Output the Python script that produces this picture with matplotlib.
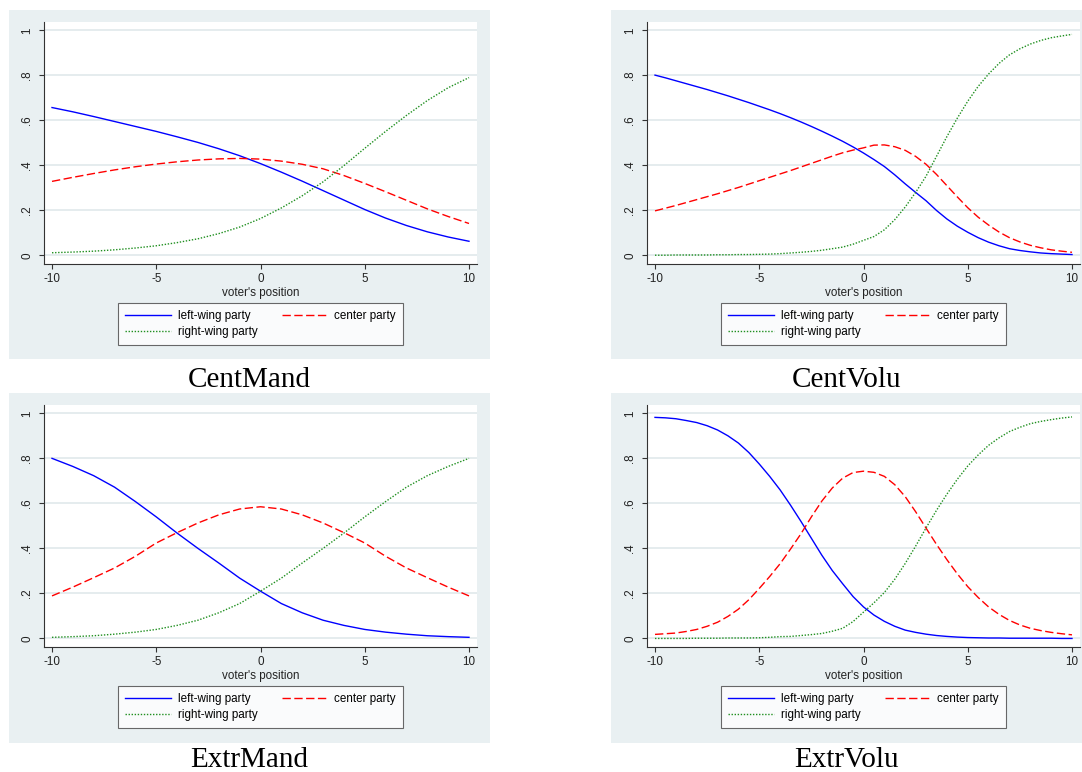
import matplotlib.pyplot as plt
from matplotlib.patches import Rectangle

plt.rcParams['axes.unicode_minus'] = False

W, H = 1082, 772

position = list(range(-10, 11))
position_half = [x / 2 for x in range(-20, 21)]

# CentMand
cm_left = [0.657, 0.638, 0.617, 0.595, 0.573, 0.551, 0.527, 0.502, 0.474, 0.443, 0.408,
           0.370, 0.330, 0.288, 0.246, 0.204, 0.166, 0.133, 0.105, 0.082, 0.063]
cm_center = [0.329, 0.347, 0.364, 0.380, 0.394, 0.406, 0.416, 0.424, 0.429, 0.431, 0.428,
             0.419, 0.405, 0.385, 0.355, 0.320, 0.283, 0.245, 0.207, 0.173, 0.142]
cm_right = [0.012, 0.015, 0.019, 0.025, 0.033, 0.043, 0.057, 0.074, 0.097, 0.126, 0.164,
            0.211, 0.265, 0.327, 0.399, 0.476, 0.551, 0.622, 0.688, 0.745, 0.790]

# CentVolu (half steps)
cv_left = [0.801, 0.789, 0.776, 0.763, 0.750, 0.737, 0.723, 0.709, 0.694, 0.679,
           0.663, 0.647, 0.630, 0.612, 0.593, 0.573, 0.552, 0.530, 0.507, 0.482,
           0.455, 0.426, 0.395, 0.358, 0.318, 0.280, 0.243, 0.200, 0.162, 0.130,
           0.103, 0.079, 0.059, 0.043, 0.030, 0.022, 0.016, 0.011, 0.008, 0.006, 0.004]
cv_center = [0.198, 0.210, 0.222, 0.235, 0.248, 0.261, 0.274, 0.288, 0.302, 0.317,
             0.332, 0.347, 0.362, 0.377, 0.393, 0.409, 0.425, 0.441, 0.456, 0.468,
             0.478, 0.490, 0.491, 0.483, 0.467, 0.440, 0.405, 0.360, 0.310, 0.260,
             0.212, 0.170, 0.135, 0.104, 0.079, 0.060, 0.045, 0.034, 0.025, 0.019, 0.014]
cv_right = [0.001, 0.001, 0.002, 0.002, 0.002, 0.002, 0.003, 0.003, 0.004, 0.004,
            0.005, 0.006, 0.008, 0.011, 0.014, 0.018, 0.023, 0.030, 0.037, 0.050,
            0.067, 0.084, 0.114, 0.159, 0.215, 0.280, 0.352, 0.440, 0.528, 0.610,
            0.685, 0.751, 0.806, 0.853, 0.891, 0.918, 0.939, 0.955, 0.967, 0.975, 0.982]

# ExtrMand
em_left = [0.800, 0.764, 0.723, 0.672, 0.608, 0.540, 0.468, 0.400, 0.335, 0.268, 0.210,
           0.155, 0.114, 0.081, 0.058, 0.040, 0.028, 0.019, 0.012, 0.008, 0.005]
em_center = [0.189, 0.228, 0.270, 0.313, 0.365, 0.424, 0.470, 0.513, 0.549, 0.575, 0.585,
             0.575, 0.549, 0.513, 0.470, 0.424, 0.365, 0.313, 0.270, 0.228, 0.189]
em_right = [0.005, 0.008, 0.012, 0.019, 0.028, 0.040, 0.058, 0.081, 0.114, 0.155, 0.210,
            0.268, 0.335, 0.400, 0.468, 0.540, 0.608, 0.672, 0.723, 0.764, 0.800]

# ExtrVolu (half steps)
ev_left = [0.982, 0.980, 0.976, 0.968, 0.959, 0.945, 0.926, 0.900, 0.868, 0.826,
           0.775, 0.720, 0.660, 0.592, 0.520, 0.445, 0.370, 0.302, 0.243, 0.186,
           0.140, 0.104, 0.076, 0.054, 0.037, 0.027, 0.019, 0.013, 0.009, 0.006,
           0.004, 0.003, 0.002, 0.002, 0.001, 0.001, 0.001, 0.001, 0.001, 0.000, 0.000]
ev_center = [0.018, 0.021, 0.024, 0.031, 0.040, 0.054, 0.072, 0.098, 0.130, 0.172,
             0.222, 0.275, 0.332, 0.397, 0.465, 0.540, 0.610, 0.668, 0.712, 0.737,
             0.743, 0.738, 0.720, 0.683, 0.630, 0.563, 0.490, 0.418, 0.350, 0.287,
             0.230, 0.182, 0.140, 0.107, 0.080, 0.060, 0.045, 0.035, 0.027, 0.021, 0.016]
ev_right = [0.000, 0.000, 0.000, 0.000, 0.001, 0.001, 0.001, 0.002, 0.002, 0.002,
            0.003, 0.005, 0.008, 0.009, 0.013, 0.017, 0.022, 0.032, 0.045, 0.075,
            0.117, 0.158, 0.204, 0.263, 0.333, 0.410, 0.491, 0.569, 0.641, 0.707,
            0.766, 0.815, 0.858, 0.891, 0.919, 0.938, 0.954, 0.964, 0.972, 0.979, 0.984]

titles = ['CentMand', 'CentVolu', 'ExtrMand', 'ExtrVolu']
xs = [position, position_half, position, position_half]
series = [(cm_left, cm_center, cm_right), (cv_left, cv_center, cv_right),
          (em_left, em_center, em_right), (ev_left, ev_center, ev_right)]

# panel boxes / plot areas in pixels (x0, y0, x1, y1), top-left origin
boxes = [(9, 10, 490, 359), (611, 10, 1082, 359), (9, 393, 490, 743), (611, 393, 1082, 743)]
areas = [(44, 22, 477, 264), (647, 22, 1080, 264), (44, 405, 477, 647), (647, 405, 1080, 647)]
title_y = [387, 387, 767, 767]

bg = '#e9f0f2'
grid = '#e3ebed'
axcol = '#333333'
sans = 'Liberation Sans'


def rect(x0, y0, x1, y1):
    return [x0 / W, 1 - y1 / H, (x1 - x0) / W, (y1 - y0) / H]


fig = plt.figure(figsize=(W / 100, H / 100), dpi=100)

for i in range(4):
    bx = boxes[i]
    r = rect(*bx)
    fig.add_artist(Rectangle((r[0], r[1]), r[2], r[3], transform=fig.transFigure,
                             facecolor=bg, edgecolor='none', zorder=-10))
    ax = fig.add_axes(rect(*areas[i]))
    ax.set_zorder(1)
    ax.set_facecolor('white')
    left, center, right = series[i]
    x = xs[i]
    l1, = ax.plot(x, left, color='#0000ff', lw=1.0, label='left-wing party')
    l2, = ax.plot(x, center, color='#ff0000', lw=1.0, linestyle=(0, (6, 2.5)),
                  label='center party')
    l3, = ax.plot(x, right, color='#1f8f1f', lw=1.0, linestyle=(0, (1, 1.2)),
                  label='right-wing party')
    ax.set_xlim(-10.384, 10.384)
    ax.set_ylim(-0.038, 1.037)
    ax.set_xticks([-10, -5, 0, 5, 10])
    ax.set_yticks([0, 0.2, 0.4, 0.6, 0.8, 1])
    ax.set_yticklabels(['0', '.2', '.4', '.6', '.8', '1'], rotation=90, va='center')
    ax.yaxis.grid(True, color=grid, lw=1.3)
    ax.set_axisbelow(True)
    for s in ['top', 'right']:
        ax.spines[s].set_visible(False)
    for s in ['left', 'bottom']:
        ax.spines[s].set_color(axcol)
        ax.spines[s].set_linewidth(0.8)
    ax.tick_params(length=3.6, width=0.8, color=axcol, labelsize=8.4, labelcolor='#222222')
    ax.tick_params(axis='x', pad=3)
    ax.tick_params(axis='y', pad=4)
    for t in ax.get_xticklabels() + ax.get_yticklabels():
        t.set_family(sans)
    ax.set_xlabel("voter's position", fontsize=8.4, family=sans, labelpad=1.5, color='#222222')

    ar = areas[i]
    cx = (ar[0] + ar[2]) / 2 / W
    leg = ax.legend(handles=[l1, l3, l2], ncol=2, loc='upper center',
                    bbox_to_anchor=(cx, 1 - (ar[3] + 39) / H), bbox_transform=fig.transFigure,
                    prop={'family': sans, 'size': 8.4}, frameon=True, fancybox=False,
                    handlelength=3.9, handletextpad=0.6, columnspacing=2.1,
                    labelspacing=0.35, borderpad=0.6, borderaxespad=0)
    leg.get_frame().set_edgecolor('#444444')
    leg.get_frame().set_linewidth(0.8)

    fig.text((bx[0] + bx[2]) / 2 / W, 1 - title_y[i] / H, titles[i], ha='center',
             va='baseline', fontsize=21, family='Liberation Serif')

fig.savefig('out.png', dpi=100, facecolor='white')
